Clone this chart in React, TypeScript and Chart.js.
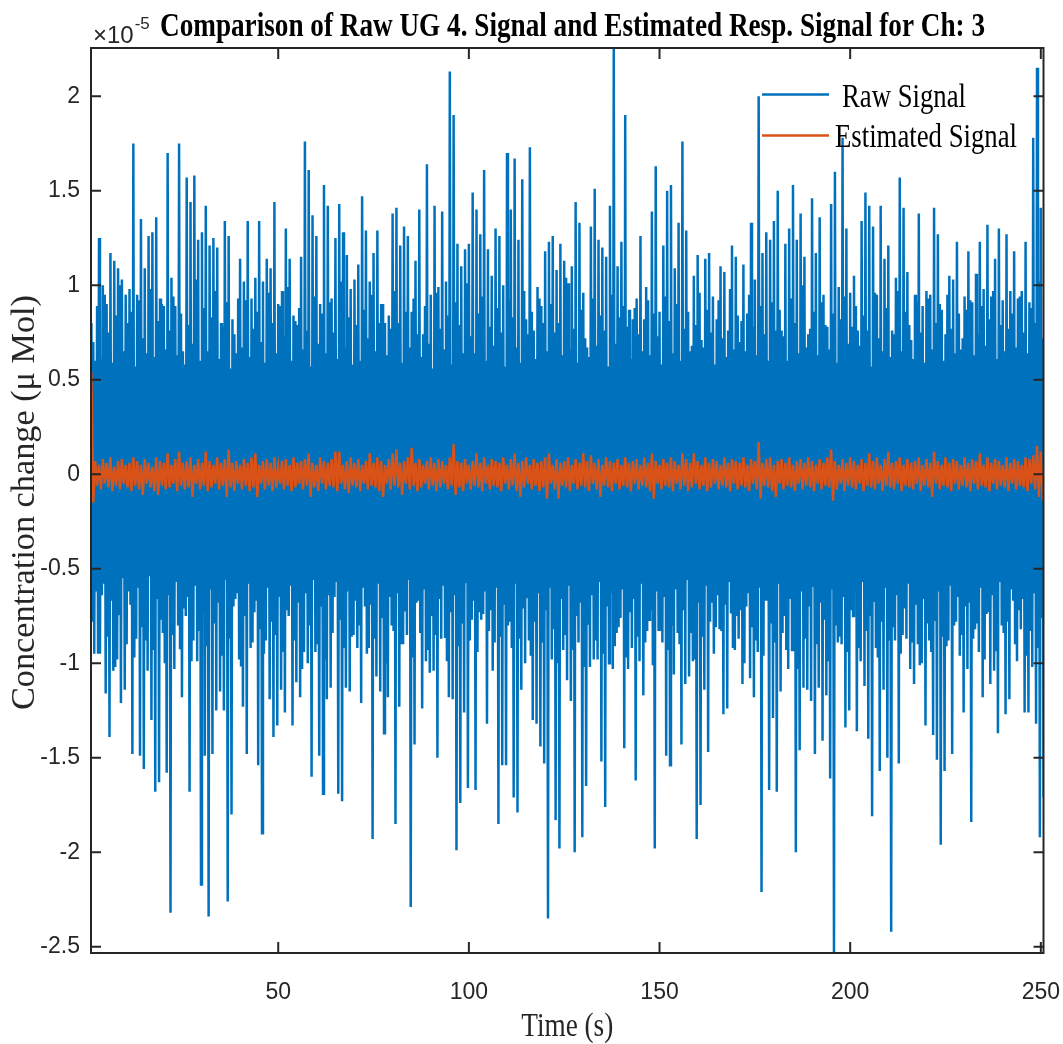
import { useEffect, useRef } from 'react';
import { Chart, registerables } from 'chart.js';
Chart.register(...registerables);

// Values are in units of 1e-5 µMol (axis multiplier shown as ×10^-5)
// Raw signal, per second k = 1..250: peak at k, inner low at k+0.25, inner high at k+0.5, trough at k+0.75
const rawPeaks = [
  0.80, 0.60, 1.25, 1.00, 0.90, 1.17, 1.13, 1.09, 1.03, 0.95,
  0.98, 1.75, 0.95, 1.35, 1.09, 1.26, 1.28, 1.36, 0.93, 0.89,
  1.70, 1.04, 0.89, 1.75, 0.65, 1.57, 1.44, 1.58, 1.24, 1.28,
  1.42, 1.21, 1.25, 1.20, 0.80, 1.34, 1.26, 0.82, 0.64, 1.14,
  1.02, 1.34, 0.93, 1.04, 1.34, 1.02, 1.14, 1.09, 1.44, 0.90,
  0.97, 1.30, 1.14, 0.84, 0.79, 1.15, 1.76, 1.61, 1.37, 1.26,
  0.90, 1.53, 1.42, 0.93, 1.25, 1.43, 1.28, 1.16, 0.98, 1.03,
  1.11, 1.47, 1.29, 1.02, 1.17, 1.29, 0.90, 0.80, 0.84, 1.38,
  1.41, 1.21, 1.31, 1.26, 0.86, 1.13, 1.40, 0.74, 1.64, 0.95,
  1.42, 0.99, 1.39, 1.02, 2.13, 1.90, 1.22, 1.10, 1.19, 1.22,
  1.49, 1.40, 1.27, 1.61, 1.19, 1.05, 1.30, 1.26, 1.00, 1.70,
  1.40, 1.67, 1.24, 1.56, 0.82, 1.73, 0.76, 0.99, 0.89, 1.18,
  1.23, 1.26, 1.08, 1.22, 1.13, 1.01, 1.10, 1.44, 1.33, 0.96,
  0.67, 1.31, 1.51, 1.24, 1.20, 1.15, 1.42, 2.255, 1.10, 1.23,
  1.90, 0.87, 0.82, 0.93, 1.26, 0.82, 0.92, 1.39, 1.63, 0.86,
  1.21, 1.50, 1.53, 1.09, 1.33, 1.76, 1.29, 0.65, 1.05, 1.16,
  0.71, 1.14, 1.17, 0.94, 0.82, 1.10, 1.07, 0.76, 1.21, 1.15,
  0.70, 1.11, 0.85, 1.33, 1.03, 2.00, 1.17, 1.28, 1.24, 1.34,
  1.50, 0.76, 1.22, 1.30, 1.53, 1.24, 1.38, 1.15, 0.74, 1.46,
  1.17, 1.36, 0.95, 0.78, 1.43, 1.60, 0.99, 1.78, 1.30, 0.96,
  1.05, 0.76, 1.34, 1.49, 1.42, 1.31, 0.95, 1.42, 1.14, 1.21,
  0.76, 1.04, 1.57, 1.41, 1.07, 0.71, 0.95, 1.38, 0.89, 0.97,
  0.95, 1.41, 1.27, 0.87, 0.74, 1.05, 1.03, 1.23, 0.66, 0.94,
  1.18, 0.91, 1.06, 1.23, 0.98, 1.32, 0.94, 1.14, 1.30, 0.92,
  1.27, 0.97, 1.18, 0.93, 0.97, 1.23, 0.91, 1.78, 2.15, 1.41,
];
const rawInnerLow = [
  -0.78, -0.62, -0.95, -0.58, -0.86, -0.67, -1.02, -0.74, -0.55, -0.90,
  -0.69, -0.97, -0.60, -0.81, -0.88, -0.54, -0.93, -0.66, -0.77, -1.00,
  -0.64, -0.85, -0.57, -0.92, -0.71, -0.65, -0.99, -0.59, -0.83, -0.73,
  -0.91, -0.61, -0.79, -0.68, -0.96, -0.56, -0.87, -0.70, -0.63, -1.01,
  -0.75, -0.58, -0.89, -0.67, -0.82, -0.95, -0.60, -0.78, -0.85, -0.65,
  -0.94, -0.72, -0.59, -0.88, -0.68, -1.03, -0.63, -0.80, -0.56, -0.90,
  -0.70, -0.98, -0.64, -0.84, -0.57, -0.77, -0.92, -0.62, -0.86, -0.67,
  -0.80, -0.60, -0.95, -0.69, -0.87, -0.58, -0.76, -1.00, -0.65, -0.83,
  -0.63, -0.90, -0.72, -0.56, -0.97, -0.68, -0.84, -0.61, -0.93, -0.75,
  -0.85, -0.66, -0.59, -0.99, -0.73, -0.64, -0.91, -0.79, -0.57, -0.88,
  -0.67, -0.94, -0.77, -0.62, -0.83, -1.04, -0.60, -0.86, -0.69, -0.80,
  -0.92, -0.58, -0.87, -0.71, -0.65, -0.96, -0.78, -0.63, -0.89, -0.72,
  -0.60, -0.82, -1.00, -0.66, -0.85, -0.59, -0.93, -0.75, -0.68, -1.02,
  -0.79, -0.64, -0.88, -0.57, -0.95, -0.70, -0.63, -0.91, -0.81, -0.61,
  -0.97, -0.73, -0.66, -0.86, -0.58, -0.89, -0.77, -1.01, -0.62, -0.83,
  -0.65, -0.93, -0.80, -0.61, -0.90, -0.72, -0.56, -0.84, -0.98, -0.68,
  -0.86, -0.59, -0.78, -0.95, -0.64, -0.83, -0.69, -0.57, -0.92, -0.75,
  -0.72, -1.00, -0.63, -0.81, -0.88, -0.60, -0.96, -0.67, -0.79, -0.89,
  -0.58, -0.84, -0.93, -0.66, -0.74, -1.03, -0.62, -0.87, -0.70, -0.59,
  -0.90, -0.68, -0.77, -0.99, -0.61, -0.80, -0.86, -0.65, -0.94, -0.72,
  -0.63, -0.92, -0.57, -0.83, -0.75, -0.67, -0.97, -0.78, -0.60, -0.88,
  -0.81, -0.64, -0.95, -0.71, -0.58, -0.89, -0.69, -1.01, -0.66, -0.79,
  -0.94, -0.77, -0.62, -0.86, -0.91, -0.59, -0.80, -0.65, -0.85, -0.70,
  -0.68, -0.87, -0.79, -0.60, -0.98, -0.73, -0.64, -0.93, -0.57, -0.84,
  -0.78, -0.61, -0.90, -0.72, -0.66, -0.96, -0.83, -0.63, -0.92, -0.76,
];
const rawInnerHigh = [
  0.70, 0.89, 0.61, 0.95, 0.75, 0.59, 0.84, 1.00, 0.65, 0.80,
  0.86, 0.57, 0.92, 0.72, 0.64, 0.98, 0.62, 0.81, 0.90, 0.66,
  0.76, 0.94, 0.63, 0.85, 0.58, 0.79, 0.69, 1.03, 0.60, 0.88,
  0.65, 0.83, 0.97, 0.61, 0.78, 0.91, 0.56, 0.74, 0.93, 0.67,
  0.92, 0.62, 0.77, 0.86, 0.70, 0.59, 0.96, 0.80, 0.64, 0.89,
  0.73, 0.99, 0.60, 0.81, 0.88, 0.66, 0.76, 0.57, 0.94, 0.69,
  0.85, 0.64, 0.91, 0.75, 0.61, 1.02, 0.67, 0.83, 0.58, 0.79,
  0.60, 0.87, 0.72, 0.95, 0.65, 0.80, 0.90, 0.63, 0.77, 0.97,
  0.80, 0.59, 0.86, 0.67, 0.93, 0.74, 0.62, 0.89, 0.69, 0.56,
  0.96, 0.77, 0.66, 0.84, 0.58, 0.91, 0.79, 0.64, 1.01, 0.73,
  0.64, 0.85, 0.94, 0.60, 0.78, 0.68, 0.88, 0.75, 0.57, 0.92,
  0.83, 0.67, 0.59, 0.97, 0.74, 0.86, 0.61, 0.93, 0.80, 0.65,
  0.90, 0.75, 0.80, 0.63, 1.04, 0.66, 0.77, 0.59, 0.87, 0.72,
  0.62, 0.93, 0.68, 0.84, 0.76, 0.57, 0.95, 0.69, 0.83, 0.89,
  0.78, 0.61, 0.88, 0.74, 0.65, 0.99, 0.63, 0.85, 0.73, 0.58,
  0.94, 0.81, 0.64, 0.90, 0.60, 0.77, 0.86, 0.68, 0.79, 0.96,
  0.67, 0.87, 0.75, 0.58, 0.92, 0.72, 0.62, 0.98, 0.66, 0.84,
  0.81, 0.65, 0.95, 0.78, 0.63, 0.89, 0.74, 0.60, 0.91, 0.76,
  0.87, 0.73, 0.60, 0.93, 0.80, 0.64, 1.00, 0.67, 0.77, 0.86,
  0.63, 0.91, 0.79, 0.66, 0.85, 0.59, 0.82, 0.94, 0.69, 0.78,
  0.89, 0.68, 0.84, 0.76, 0.57, 0.96, 0.72, 0.65, 0.88, 0.62,
  0.74, 0.97, 0.65, 0.86, 0.79, 0.61, 0.91, 0.75, 0.59, 0.93,
  0.66, 0.80, 0.90, 0.60, 0.95, 0.77, 0.64, 0.85, 0.72, 0.87,
  0.92, 0.63, 0.74, 0.89, 0.68, 0.82, 0.97, 0.61, 0.79, 0.65,
  0.77, 0.85, 0.67, 0.94, 0.75, 0.64, 0.88, 0.80, 1.02, 0.72,
];
const rawTroughs = [
  -0.95, -0.95, -0.64, -1.16, -1.39, -1.04, -0.98, -1.21, -1.14, -0.62,
  -1.48, -0.87, -1.49, -1.56, -1.04, -1.30, -1.68, -1.63, -0.84, -1.58,
  -2.32, -1.03, -0.80, -1.18, -0.75, -1.68, -0.88, -0.99, -2.17, -1.49,
  -2.34, -1.48, -1.25, -1.15, -1.25, -2.26, -1.80, -0.66, -0.98, -1.23,
  -1.48, -0.92, -0.73, -1.54, -1.90, -0.88, -1.19, -1.39, -1.33, -1.14,
  -1.26, -0.75, -1.33, -1.10, -1.18, -0.94, -1.00, -1.60, -0.94, -1.49,
  -1.69, -1.19, -1.13, -0.65, -1.69, -1.73, -1.13, -1.15, -0.85, -0.92,
  -1.21, -0.70, -0.92, -1.93, -1.07, -1.15, -1.37, -1.18, -0.80, -1.85,
  -1.23, -0.90, -0.85, -2.29, -1.43, -0.67, -1.24, -0.99, -1.05, -1.04,
  -1.50, -0.87, -0.86, -1.18, -1.19, -1.99, -1.74, -1.26, -1.66, -0.77,
  -1.67, -0.73, -0.74, -1.32, -0.72, -0.89, -1.85, -1.54, -1.54, -0.78,
  -1.71, -1.79, -1.14, -1.00, -0.88, -1.30, -1.32, -1.44, -1.53, -2.35,
  -0.98, -1.83, -1.98, -0.93, -1.09, -1.20, -2.00, -0.89, -1.92, -1.65,
  -1.02, -0.98, -0.98, -1.52, -1.76, -1.00, -1.03, -0.84, -0.76, -1.45,
  -1.03, -0.92, -1.62, -0.99, -1.17, -0.83, -0.72, -1.98, -0.83, -0.89,
  -1.49, -1.54, -1.06, -0.84, -1.43, -1.11, -1.07, -0.99, -1.93, -1.75,
  -1.14, -1.47, -0.68, -0.81, -0.82, -1.27, -1.24, -0.73, -0.93, -0.87,
  -1.11, -0.70, -1.08, -1.18, -0.94, -2.21, -0.67, -1.67, -1.29, -1.68,
  -1.15, -0.75, -1.03, -0.93, -2.00, -1.46, -1.13, -1.14, -1.20, -1.48,
  -1.13, -1.41, -1.17, -1.61, -2.533, -0.89, -0.90, -1.34, -1.25, -0.75,
  -1.36, -0.99, -1.12, -1.40, -1.81, -0.92, -1.57, -1.14, -1.50, -2.42,
  -0.88, -1.53, -0.85, -0.87, -1.03, -1.11, -0.90, -1.00, -1.33, -0.88,
  -1.38, -1.51, -1.96, -1.57, -0.88, -1.48, -0.78, -0.96, -1.26, -1.03,
  -1.84, -0.82, -0.94, -1.18, -0.74, -1.11, -1.04, -1.37, -0.80, -1.27,
  -1.19, -0.67, -0.99, -0.82, -1.26, -1.26, -1.02, -1.32, -1.92, -1.71,
];
// Estimated signal, per second k: peak at k, trough at k+0.5
const estPeaks = [
  0.54, 0.07, 0.05, 0.08, 0.06, 0.09, 0.04, 0.07, 0.08, 0.05,
  0.06, 0.09, 0.07, 0.05, 0.08, 0.06, 0.04, 0.09, 0.07, 0.06,
  0.11, 0.05, 0.08, 0.12, 0.06, 0.07, 0.09, 0.05, 0.08, 0.06,
  0.12, 0.07, 0.05, 0.09, 0.06, 0.08, 0.13, 0.06, 0.07, 0.05,
  0.08, 0.06, 0.09, 0.11, 0.05, 0.07, 0.08, 0.06, 0.09, 0.04,
  0.07, 0.08, 0.05, 0.09, 0.06, 0.07, 0.08, 0.11, 0.06, 0.05,
  0.09, 0.07, 0.06, 0.08, 0.12, 0.12, 0.05, 0.07, 0.09, 0.06,
  0.08, 0.05, 0.07, 0.11, 0.06, 0.09, 0.07, 0.05, 0.08, 0.11,
  0.13, 0.06, 0.07, 0.09, 0.14, 0.06, 0.08, 0.05, 0.07, 0.09,
  0.06, 0.08, 0.07, 0.05, 0.09, 0.16, 0.07, 0.06, 0.08, 0.05,
  0.07, 0.11, 0.06, 0.09, 0.05, 0.08, 0.07, 0.06, 0.09, 0.05,
  0.08, 0.11, 0.06, 0.07, 0.09, 0.05, 0.08, 0.06, 0.07, 0.09,
  0.11, 0.05, 0.08, 0.06, 0.07, 0.09, 0.05, 0.08, 0.06, 0.11,
  0.07, 0.10, 0.06, 0.08, 0.05, 0.09, 0.07, 0.06, 0.08, 0.05,
  0.09, 0.06, 0.07, 0.08, 0.05, 0.09, 0.06, 0.11, 0.07, 0.05,
  0.08, 0.06, 0.09, 0.07, 0.05, 0.11, 0.08, 0.06, 0.11, 0.07,
  0.05, 0.09, 0.06, 0.08, 0.07, 0.05, 0.09, 0.06, 0.08, 0.07,
  0.06, 0.09, 0.05, 0.08, 0.07, 0.17, 0.06, 0.08, 0.09, 0.05,
  0.07, 0.08, 0.06, 0.09, 0.05, 0.07, 0.08, 0.06, 0.09, 0.07,
  0.05, 0.08, 0.06, 0.09, 0.13, 0.07, 0.05, 0.08, 0.06, 0.09,
  0.07, 0.05, 0.08, 0.06, 0.11, 0.07, 0.09, 0.05, 0.08, 0.12,
  0.06, 0.07, 0.09, 0.05, 0.08, 0.06, 0.07, 0.09, 0.05, 0.08,
  0.06, 0.12, 0.07, 0.05, 0.09, 0.06, 0.08, 0.07, 0.05, 0.09,
  0.06, 0.08, 0.07, 0.11, 0.05, 0.09, 0.06, 0.08, 0.07, 0.05,
  0.09, 0.06, 0.08, 0.07, 0.05, 0.09, 0.08, 0.10, 0.15, 0.12,
];
const estTroughs = [
  -0.15, -0.06, -0.08, -0.05, -0.07, -0.09, -0.06, -0.08, -0.05, -0.07,
  -0.09, -0.06, -0.08, -0.11, -0.05, -0.07, -0.09, -0.11, -0.06, -0.08,
  -0.07, -0.05, -0.09, -0.06, -0.08, -0.07, -0.12, -0.05, -0.08, -0.06,
  -0.09, -0.07, -0.05, -0.08, -0.06, -0.12, -0.07, -0.09, -0.05, -0.08,
  -0.06, -0.09, -0.07, -0.12, -0.05, -0.08, -0.06, -0.09, -0.07, -0.05,
  -0.08, -0.06, -0.09, -0.07, -0.05, -0.08, -0.06, -0.12, -0.07, -0.09,
  -0.05, -0.08, -0.06, -0.07, -0.09, -0.05, -0.08, -0.10, -0.06, -0.07,
  -0.09, -0.05, -0.08, -0.06, -0.07, -0.09, -0.12, -0.05, -0.08, -0.06,
  -0.07, -0.11, -0.05, -0.08, -0.06, -0.09, -0.07, -0.05, -0.08, -0.06,
  -0.09, -0.07, -0.05, -0.08, -0.06, -0.11, -0.07, -0.09, -0.05, -0.08,
  -0.06, -0.07, -0.09, -0.05, -0.08, -0.06, -0.07, -0.09, -0.05, -0.08,
  -0.06, -0.09, -0.12, -0.07, -0.05, -0.08, -0.06, -0.09, -0.07, -0.13,
  -0.05, -0.08, -0.13, -0.06, -0.07, -0.09, -0.05, -0.08, -0.06, -0.07,
  -0.09, -0.05, -0.08, -0.12, -0.06, -0.07, -0.09, -0.05, -0.08, -0.06,
  -0.07, -0.09, -0.05, -0.08, -0.06, -0.07, -0.09, -0.13, -0.05, -0.08,
  -0.06, -0.07, -0.09, -0.05, -0.08, -0.06, -0.09, -0.07, -0.05, -0.08,
  -0.06, -0.09, -0.07, -0.05, -0.08, -0.06, -0.07, -0.09, -0.05, -0.08,
  -0.06, -0.07, -0.09, -0.05, -0.08, -0.13, -0.06, -0.07, -0.09, -0.12,
  -0.05, -0.08, -0.06, -0.07, -0.09, -0.05, -0.08, -0.06, -0.07, -0.09,
  -0.05, -0.08, -0.06, -0.07, -0.14, -0.08, -0.05, -0.09, -0.06, -0.07,
  -0.08, -0.05, -0.09, -0.06, -0.07, -0.08, -0.05, -0.09, -0.06, -0.07,
  -0.08, -0.05, -0.09, -0.06, -0.07, -0.08, -0.05, -0.09, -0.06, -0.07,
  -0.12, -0.05, -0.08, -0.06, -0.07, -0.09, -0.05, -0.08, -0.06, -0.07,
  -0.09, -0.05, -0.08, -0.06, -0.07, -0.09, -0.05, -0.08, -0.06, -0.07,
  -0.09, -0.05, -0.08, -0.06, -0.07, -0.09, -0.05, -0.08, -0.12, -0.14,
];

const xTickValues = [50, 100, 150, 200, 250];
const yTickValues = [-2.5, -2, -1.5, -1, -0.5, 0, 0.5, 1, 1.5, 2];
const seriesLabels = ['Raw Signal', 'Estimated Signal'];
const titleText = 'Comparison of Raw UG 4. Signal and Estimated Resp. Signal for Ch: 3';
const xAxisLabel = 'Time (s)';
const yAxisLabel = 'Concentration change (\u03bc Mol)';

const BLUE = '#0072BD';
const ORANGE = '#D95319';
const AXIS = '#262626';

function buildRaw() {
  const out: { x: number; y: number }[] = [];
  rawPeaks.forEach((v, i) => {
    const k = i + 1;
    out.push({ x: k, y: v });
    out.push({ x: k + 0.25, y: rawInnerLow[i] });
    out.push({ x: k + 0.5, y: rawInnerHigh[i] });
    out.push({ x: k + 0.75, y: rawTroughs[i] });
  });
  return out;
}
function buildEst() {
  const out: { x: number; y: number }[] = [];
  estPeaks.forEach((v, i) => {
    out.push({ x: i + 1, y: v });
    out.push({ x: i + 1.5, y: estTroughs[i] });
  });
  return out;
}

function drawFitted(ctx: CanvasRenderingContext2D, text: string, x: number, y: number, font: string, width: number, align: CanvasTextAlign, color: string, rotate = 0) {
  ctx.save();
  ctx.font = font;
  const w = ctx.measureText(text).width;
  const s = width / w;
  ctx.translate(x, y);
  if (rotate) ctx.rotate(rotate);
  ctx.scale(s, 1);
  ctx.textAlign = align;
  ctx.textBaseline = 'alphabetic';
  ctx.fillStyle = color;
  ctx.fillText(text, 0, 0);
  ctx.restore();
}

const decor = {
  id: 'decor',
  afterDatasetsDraw(chart: any) {
    const { ctx, chartArea: a, scales } = chart;
    const x = scales.x, y = scales.y;
    ctx.save();
    ctx.strokeStyle = AXIS;
    ctx.lineWidth = 2;
    ctx.strokeRect(a.left, a.top, a.right - a.left, a.bottom - a.top);
    ctx.beginPath();
    for (const t of x.ticks) {
      const px = x.getPixelForValue(t.value);
      ctx.moveTo(px, a.bottom); ctx.lineTo(px, a.bottom - 11);
      ctx.moveTo(px, a.top); ctx.lineTo(px, a.top + 11);
    }
    for (const t of y.ticks) {
      const py = y.getPixelForValue(t.value);
      ctx.moveTo(a.left, py); ctx.lineTo(a.left + 10, py);
      ctx.moveTo(a.right, py); ctx.lineTo(a.right - 10, py);
    }
    ctx.stroke();
    ctx.restore();
  },
  afterDraw(chart: any) {
    const ctx: CanvasRenderingContext2D = chart.ctx;
    const a = chart.chartArea;
    drawFitted(ctx, titleText, 160, 36, 'bold 33px "Liberation Serif"', 825, 'left', '#000000');
    ctx.save();
    ctx.fillStyle = AXIS;
    ctx.font = '24px "Liberation Sans"';
    ctx.textAlign = 'left';
    ctx.fillText('\u00d710', 93, 43);
    const w = ctx.measureText('\u00d710').width;
    ctx.font = '17px "Liberation Sans"';
    ctx.fillText('-5', 93 + w + 1, 29);
    ctx.restore();
    drawFitted(ctx, xAxisLabel, (a.left + a.right) / 2, 1036, '33px "Liberation Serif"', 92, 'center', AXIS);
    drawFitted(ctx, yAxisLabel, 34, (a.top + a.bottom) / 2 + 2, '33px "Liberation Serif"', 415, 'center', AXIS, -Math.PI / 2);
    const items = [
      { label: seriesLabels[0], color: BLUE, ly: 94.5, tx: 842, ty: 107, tw: 124 },
      { label: seriesLabels[1], color: ORANGE, ly: 135.5, tx: 835, ty: 147, tw: 182 },
    ];
    for (const it of items) {
      ctx.save();
      ctx.strokeStyle = it.color;
      ctx.lineWidth = 2.5;
      ctx.beginPath();
      ctx.moveTo(762, it.ly);
      ctx.lineTo(829, it.ly);
      ctx.stroke();
      ctx.restore();
      drawFitted(ctx, it.label, it.tx, it.ty, '33px "Liberation Serif"', it.tw, 'left', '#000000');
    }
  },
};

export default function App() {
  const ref = useRef<HTMLCanvasElement>(null);
  useEffect(() => {
    document.body.style.margin = '0';
    const chart = new Chart(ref.current as HTMLCanvasElement, {
      type: 'line',
      data: {
        datasets: [
          {
            label: seriesLabels[1],
            data: buildEst(),
            borderColor: ORANGE,
            borderWidth: 2.4,
            pointRadius: 0,
            tension: 0,
            order: 1,
            clip: 0,
          },
          {
            label: seriesLabels[0],
            data: buildRaw(),
            borderColor: BLUE,
            borderWidth: 2.5,
            pointRadius: 0,
            tension: 0,
            order: 2,
            clip: 0,
          },
        ],
      },
      options: {
        responsive: false,
        devicePixelRatio: 1,
        animation: false,
        parsing: false,
        normalized: true,
        layout: { padding: { top: 48, right: 19.5, left: 0, bottom: 0 } },
        plugins: { legend: { display: false }, tooltip: { enabled: false }, title: { display: false } },
        scales: {
          x: {
            type: 'linear',
            min: 0.9,
            max: 250.7,
            afterBuildTicks: (s: any) => { s.ticks = xTickValues.map((v) => ({ value: v })); },
            afterFit: (s: any) => { s.height = 91; s.paddingLeft = 0; s.paddingRight = 0; },
            grid: { display: false, drawTicks: false },
            border: { display: false },
            ticks: { font: { family: 'Liberation Sans', size: 23 }, color: AXIS, padding: 26, maxRotation: 0, autoSkip: false, callback: (v: any) => String(v) },
          },
          y: {
            type: 'linear',
            min: -2.533,
            max: 2.255,
            afterBuildTicks: (s: any) => { s.ticks = yTickValues.map((v) => ({ value: v })); },
            afterFit: (s: any) => { s.width = 91; s.paddingTop = 0; s.paddingBottom = 0; },
            grid: { display: false, drawTicks: false },
            border: { display: false },
            ticks: { font: { family: 'Liberation Sans', size: 23 }, color: AXIS, padding: 11, autoSkip: false, callback: (v: any) => String(v) },
          },
        },
      },
      plugins: [decor],
    } as any);
    return () => chart.destroy();
  }, []);
  return (
    <div style={{ width: 1063, height: 1044 }}>
      <canvas ref={ref} width={1063} height={1044} style={{ display: 'block' }} />
    </div>
  );
}
